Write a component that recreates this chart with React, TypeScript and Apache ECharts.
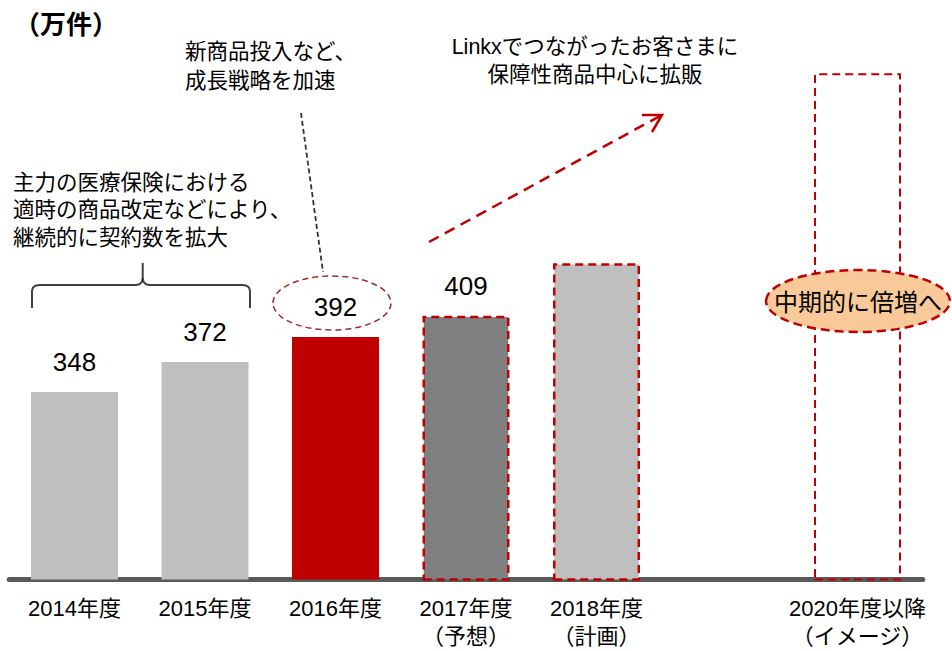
import React, { useEffect, useRef } from "react";
import * as echarts from "echarts";

const categories = [
  "2014年度",
  "2015年度",
  "2016年度",
  "2017年度\n（予想）",
  "2018年度\n（計画）",
  "",
  "2020年度以降\n（イメージ）",
];
const values: (number | null)[] = [348, 372, 392, 409, 451, null, 603];
const showValueLabel = [true, true, true, true, false, false, false];

const unitText = "（万件）";
const braceNote = "主力の医療保険における\n適時の商品改定などにより、\n継続的に契約数を拡大";
const growthNote = "新商品投入など、\n成長戦略を加速";
const linkxNote = "Linkxでつながったお客さまに\n保障性商品中心に拡販";
const targetNote = "中期的に倍増へ";

const FONT = "'Liberation Sans', Arial, 'Noto Sans CJK JP', sans-serif";
const RED = "#C00000";

const barStyles = [
  { color: "#BFBFBF" },
  { color: "#BFBFBF" },
  { color: RED },
  { color: "#808080", borderColor: RED, borderWidth: 2.5, borderType: [8, 5] },
  { color: "#BFBFBF", borderColor: RED, borderWidth: 2.5, borderType: [8, 5] },
  {},
  { color: "rgba(0,0,0,0)", borderColor: RED, borderWidth: 2, borderType: [8, 5] },
];

export default function App() {
  const ref = useRef<HTMLDivElement>(null);
  useEffect(() => {
    if (!ref.current) return;
    const chart = echarts.init(ref.current, null, { renderer: "svg" });
    const data = values.map((v, i) => ({
      value: v === null ? "-" : v,
      itemStyle: barStyles[i],
      label: { show: showValueLabel[i] },
    }));
    chart.setOption({
      animation: false,
      grid: { left: 9.25, right: 29.25, top: 27, bottom: 71.5 },
      xAxis: {
        type: "category",
        data: categories,
        axisLine: { show: true, lineStyle: { color: "#595959", width: 5 } },
        axisTick: { show: false },
        axisLabel: {
          interval: 0,
          margin: 15,
          color: "#000",
          fontSize: 22,
          lineHeight: 28,
          fontFamily: FONT,
        },
      },
      yAxis: {
        type: "value",
        min: 198,
        max: 640,
        show: false,
        splitLine: { show: false },
      },
      series: [
        {
          type: "bar",
          barWidth: 87,
          data,
          label: {
            position: "top",
            distance: 17,
            color: "#000",
            fontSize: 26,
            fontFamily: FONT,
          },
        },
      ],
      graphic: [
        {
          type: "text",
          x: 14,
          y: 25,
          style: {
            text: unitText,
            font: `bold 26px ${FONT}`,
            fill: "#000",
            textVerticalAlign: "middle",
          },
        },
        {
          type: "text",
          x: 185,
          y: 37.5,
          style: {
            text: growthNote,
            font: `21.5px ${FONT}`,
            lineHeight: 29,
            fill: "#000",
            textVerticalAlign: "top",
          },
        },
        {
          type: "text",
          x: 595,
          y: 33,
          style: {
            text: linkxNote,
            font: `21.5px ${FONT}`,
            lineHeight: 28,
            fill: "#000",
            textAlign: "center",
            textVerticalAlign: "top",
          },
        },
        {
          type: "text",
          x: 13,
          y: 168.75,
          style: {
            text: braceNote,
            font: `21.5px ${FONT}`,
            lineHeight: 27.5,
            fill: "#000",
            textVerticalAlign: "top",
          },
        },
        // brace
        {
          type: "polyline",
          shape: {
            points: [
              [32, 308], [32, 291], [33, 287.5], [35.5, 285.7], [39, 285],
              [136, 285], [139.5, 284.3], [141.8, 282], [142.7, 278], [142.7, 263],
            ],
          },
          style: { stroke: "#404040", lineWidth: 2, fill: "none" },
        },
        {
          type: "polyline",
          shape: {
            points: [
              [250, 308], [250, 291], [249, 287.5], [246.5, 285.7], [243, 285],
              [149.5, 285], [146, 284.3], [143.6, 282], [142.7, 278],
            ],
          },
          style: { stroke: "#404040", lineWidth: 2, fill: "none" },
        },
        // pointer line to 2016 label
        {
          type: "line",
          shape: { x1: 301, y1: 113, x2: 323, y2: 272 },
          style: { stroke: "#333333", lineWidth: 1.8, lineDash: [5, 3] },
        },
        {
          type: "ellipse",
          shape: { cx: 332, cy: 303, rx: 59, ry: 27 },
          style: { fill: "none", stroke: "#A0282D", lineWidth: 1.5, lineDash: [6, 4] },
        },
        // growth arrow
        {
          type: "line",
          shape: { x1: 429, y1: 242, x2: 660, y2: 116 },
          style: { stroke: RED, lineWidth: 2.5, lineDash: [11, 7] },
        },
        {
          type: "polyline",
          shape: { points: [[642, 115], [662, 115], [652, 132]] },
          style: { stroke: RED, lineWidth: 2.5, fill: "none" },
        },
        // target ellipse
        {
          type: "ellipse",
          z: 100,
          shape: { cx: 858, cy: 301, rx: 92, ry: 31 },
          style: { fill: "#F9C99A", stroke: RED, lineWidth: 2.5, lineDash: [9, 5] },
        },
        {
          type: "text",
          z: 101,
          x: 858,
          y: 302,
          style: {
            text: targetNote,
            font: `24px ${FONT}`,
            fill: "#000",
            textAlign: "center",
            textVerticalAlign: "middle",
          },
        },
      ],
    });
    return () => chart.dispose();
  }, []);
  return (
    <div
      ref={ref}
      style={{ position: "fixed", left: 0, top: 0, width: 952, height: 651, background: "#fff" }}
    />
  );
}
